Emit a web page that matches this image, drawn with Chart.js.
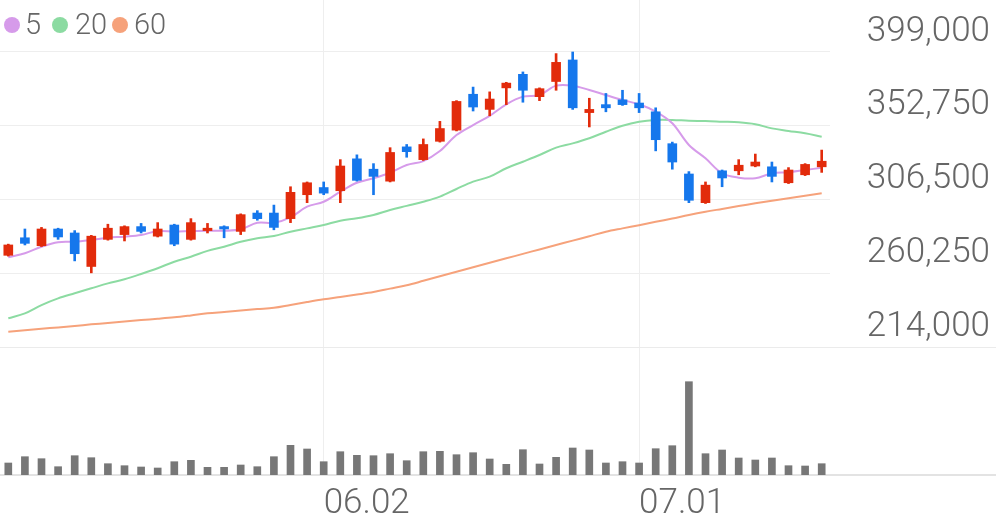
<!DOCTYPE html>
<html>
<head>
<meta charset="utf-8">
<script src="https://cdn.jsdelivr.net/npm/chart.js@4.4.1/dist/chart.umd.min.js"></script>
<style>
html,body{margin:0;padding:0;background:#fff;}
#wrap{position:relative;width:996px;height:519px;overflow:hidden;}
#legend{position:absolute;left:0;top:0;width:200px;height:45px;font-family:Roboto,'Noto Sans',sans-serif;font-weight:300;font-size:29px;color:#666;}
#legend .dot{position:absolute;top:17px;width:16px;height:16px;border-radius:50%;}
#legend .txt{position:absolute;top:7px;line-height:34px;}
canvas{position:absolute;left:0;top:0;}
</style>
</head>
<body>
<div id="wrap">
<canvas id="c" width="996" height="519"></canvas>
<div id="legend">
  <span class="dot" style="left:4px;background:#d69bea;"></span><span class="txt" style="left:25px;">5</span>
  <span class="dot" style="left:52px;background:#8cdba2;"></span><span class="txt" style="left:75px;">20</span>
  <span class="dot" style="left:112px;background:#f6a27b;"></span><span class="txt" style="left:134px;">60</span>
</div>
</div>
<script>
// ---- data ----
const dates = ['05.02','05.07','05.08','05.09','05.12','05.13','05.14','05.15','05.16','05.19',
  '05.20','05.21','05.22','05.23','05.26','05.27','05.28','05.29','05.30','06.02',
  '06.04','06.05','06.09','06.10','06.11','06.12','06.13','06.16','06.17','06.18',
  '06.19','06.20','06.23','06.24','06.25','06.26','06.27','06.30','07.01','07.02',
  '07.03','07.04','07.07','07.08','07.09','07.10','07.11','07.14','07.15','07.16'];
const xTickLabels = ['06.02','07.01'];

const opens  = [271500,282500,277500,288000,285500,264500,281500,284500,289500,283500,
  290500,281500,287000,289500,286500,298000,298000,294500,309500,314000,
  312000,332000,325500,318000,339500,331500,343000,350000,372500,363000,
  376500,385000,371000,380500,394000,361000,366000,369000,367000,361500,
  341500,322500,304500,324500,324500,327500,327000,317000,322000,327000];
const highs  = [278500,288000,289000,288500,287000,284000,291000,290000,291500,292000,
  291000,294500,291500,290000,297500,299500,303000,314500,317500,317500,
  331500,334500,329000,339000,341000,344500,355500,368500,377000,374000,
  380000,386500,376500,398000,399000,370000,373000,375000,373000,364000,
  342500,324000,317500,325000,331500,335000,330000,326500,329000,337500];
const lows   = [271000,278000,277000,281500,268000,260500,281000,280500,285500,283000,
  277500,281000,285500,282500,284500,293500,287500,292000,304500,309500,
  304500,318000,309500,317500,333000,331000,342500,349500,362000,359000,
  366000,367500,368500,375000,363000,352000,361500,365500,361000,337000,
  325500,304500,304000,314500,322000,327000,317500,316500,321500,323500];
const closes = [278000,279000,288000,283000,272500,283500,288500,289500,286500,288000,
  278500,292000,288500,288000,297000,294500,289000,311000,317000,310500,
  327500,318500,321000,336000,336500,341000,351000,368000,364500,369500,
  379500,375000,376000,392500,364000,363000,364000,366000,364000,344000,
  330000,306000,315500,320000,328000,330000,321000,325000,328500,330500];

const ma5  = [270300,272800,276900,279700,280000,281100,282500,283200,284200,286700,
  286400,286700,286900,286900,287800,291900,291900,295300,302000,305100,
  311400,317000,319800,323300,328100,330600,336900,346900,353200,359000,
  366200,371000,372000,377900,377900,375200,372000,368900,366200,361600,
  354300,340700,332300,322900,320200,319800,322900,323600,325000,326400];
const ma20 = [232000,235100,240300,244500,247700,250800,253900,256500,259800,263400,
  267500,270600,274300,276900,280000,282200,283600,286300,288400,290500,
  293200,294700,296800,299900,302500,305100,308300,313100,317700,320800,
  326100,330200,334400,339000,341700,344900,349000,352800,355300,356400,
  356400,355900,355700,355300,354900,353700,351100,349500,348000,345900];
const ma60 = [223600,224500,225400,226300,227200,228200,229100,230000,230900,231700,
  232600,233800,235100,236000,236900,237800,238600,240400,242200,243900,
  245400,246900,248500,250600,252700,255500,258400,261200,264000,266800,
  269600,272400,275200,278000,280700,283500,286300,288400,290400,292500,
  294600,296800,298800,300600,302400,304100,305700,307300,308800,310400];

const volumes = [120,183,163,83,193,173,113,93,80,70,
  133,147,77,77,100,83,183,297,260,133,
  233,197,193,213,143,233,237,203,223,160,
  107,253,110,177,270,250,120,133,120,263,
  293,933,213,250,170,150,170,93,90,113];

const yTicks = [214000,260250,306500,352750,399000];

// ---- styling ----
const UP = '#e22b0b', DOWN = '#1577ec';
const candleColors = closes.map((c,i) => c >= opens[i] ? UP : DOWN);
const FONT = {family:"Roboto, 'Noto Sans', sans-serif", size:35, weight:'300'};
const GRID = '#eeeeee';

const fullLines = {
  id:'fullLines',
  beforeDatasetsDraw(chart){
    const {ctx, chartArea, width} = chart;
    const y0 = Math.round(chart.scales.y.getPixelForValue(yTicks[0])) + 0.5;
    ctx.save();
    ctx.strokeStyle = '#ebebeb'; ctx.lineWidth = 1;
    ctx.beginPath(); ctx.moveTo(0,y0); ctx.lineTo(width,y0); ctx.stroke();
    ctx.strokeStyle = '#e3e3e3'; ctx.lineWidth = 2;
    const yb = chartArea.bottom;
    ctx.beginPath(); ctx.moveTo(0,yb); ctx.lineTo(width,yb); ctx.stroke();
    ctx.restore();
  }
};

new Chart(document.getElementById('c'), {
  data: {
    labels: dates,
    datasets: [
      {type:'bar', label:'body', data: opens.map((o,i)=>[o,closes[i]]), backgroundColor:candleColors,
       barThickness:9, grouped:false, order:0, yAxisID:'y'},
      {type:'bar', label:'wick', data: lows.map((l,i)=>[l,highs[i]]), backgroundColor:candleColors,
       barThickness:2, grouped:false, order:1, yAxisID:'y'},
      {type:'line', label:'5', data: ma5, borderColor:'#d69bea', borderWidth:2, pointRadius:0, tension:0.35, order:2, yAxisID:'y'},
      {type:'line', label:'20', data: ma20, borderColor:'#8cdba2', borderWidth:2, pointRadius:0, tension:0.35, order:3, yAxisID:'y'},
      {type:'line', label:'60', data: ma60, borderColor:'#f6a27b', borderWidth:2, pointRadius:0, tension:0.35, order:4, yAxisID:'y'},
      {type:'bar', label:'volume', data: volumes, backgroundColor:'#777777', barThickness:7, grouped:false, order:5, yAxisID:'v'}
    ]
  },
  options: {
    responsive:false, animation:false, devicePixelRatio:1,
    layout:{padding:{left:0, top:0, bottom:0, right:6}},
    plugins:{legend:{display:false}, tooltip:{enabled:false}},
    scales:{
      x:{type:'category', offset:true,
         grid:{offset:false, drawTicks:false,
               color: c => (c.tick && xTickLabels.includes(c.tick.label)) ? GRID : 'rgba(0,0,0,0)'},
         border:{display:false},
         ticks:{autoSkip:false, maxRotation:0, minRotation:0, align:'start', padding:8, color:'#666', font:FONT,
                callback:(v,i)=> xTickLabels.includes(dates[i]) ? dates[i] : ''},
         afterFit: s => { s.height = 44; s.paddingLeft = 0; s.paddingRight = 0; }
      },
      y:{type:'linear', position:'right', min:133729, max:431610,
         afterBuildTicks: s => { s.ticks = yTicks.map(v => ({value:v})); },
         grid:{color:GRID, drawTicks:false},
         border:{display:false},
         ticks:{padding:10, crossAlign:'far', labelOffset:-20, color:'#666', font:FONT,
                callback: v => Number(v).toLocaleString('en-US')},
         afterFit: s => { s.width = 160; s.paddingTop = 0; s.paddingBottom = 0; }
      },
      v:{type:'linear', display:false, min:0, max:4750}
    }
  },
  plugins:[fullLines]
});
</script>
</body>
</html>
